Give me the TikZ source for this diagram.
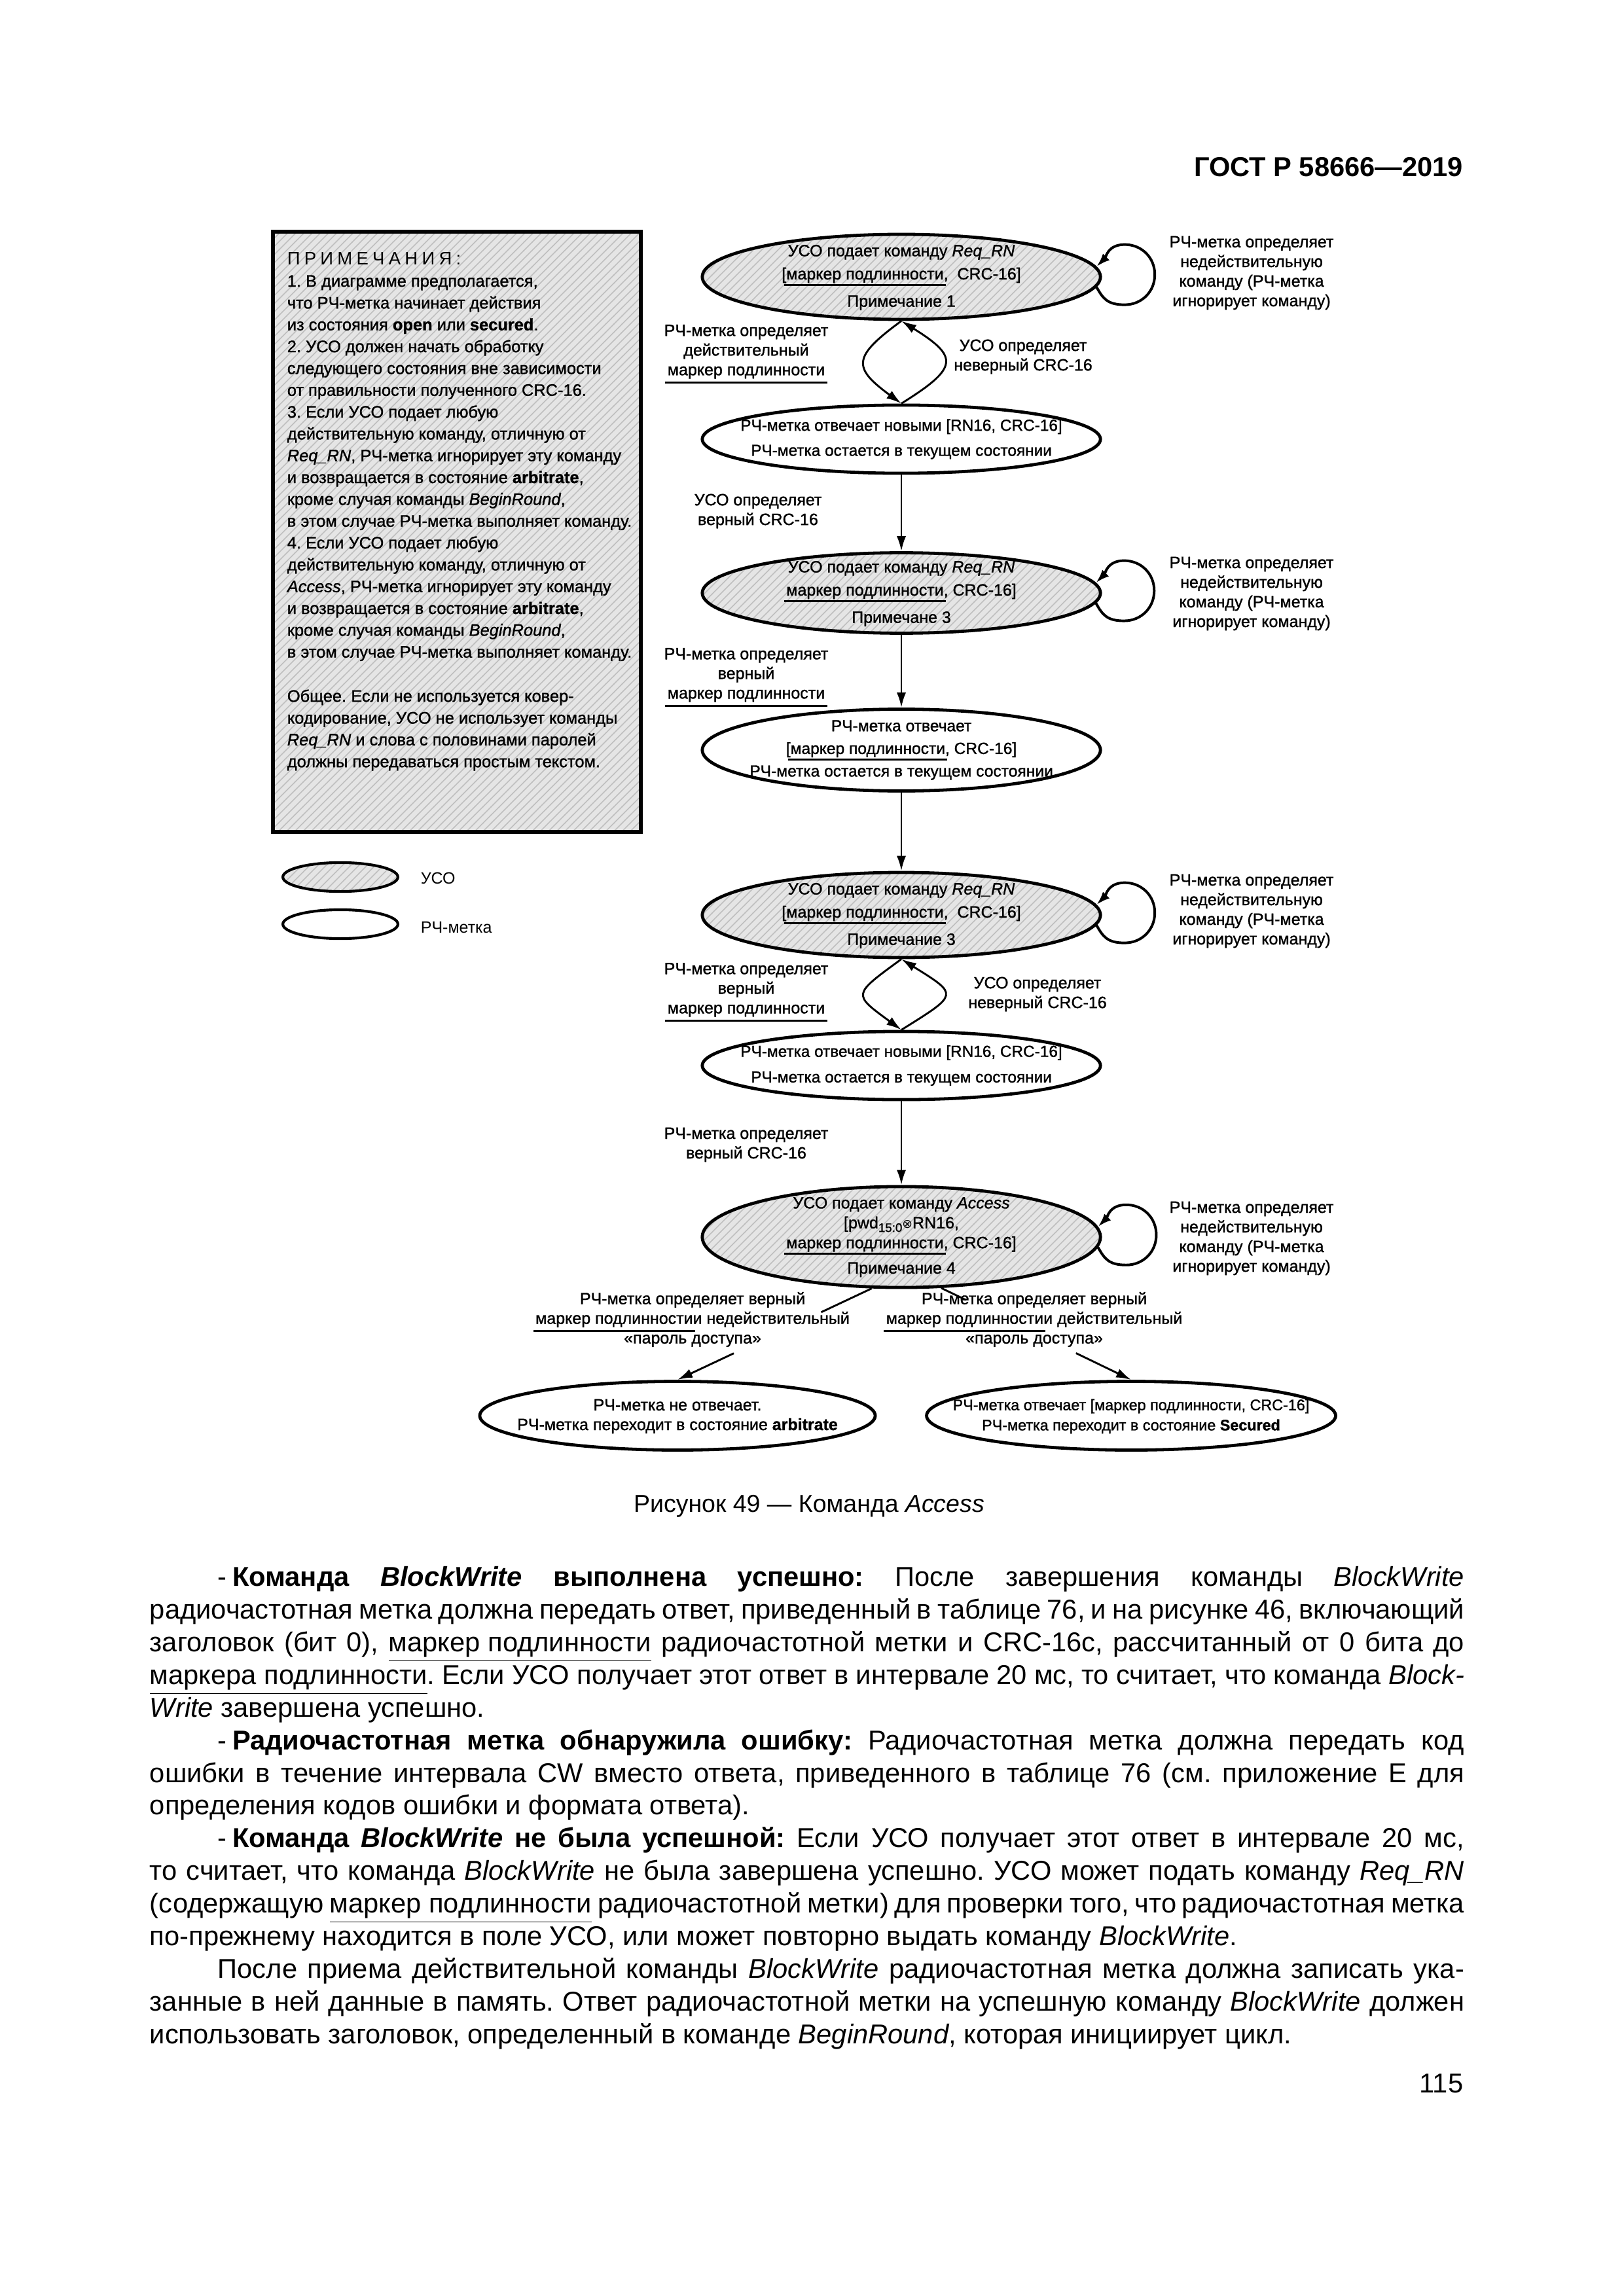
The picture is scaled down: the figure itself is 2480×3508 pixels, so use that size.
\documentclass[tikz,border=0pt]{standalone}
\usepackage{fontspec}
\setmainfont{Liberation Sans}
\newfontfamily\dfont[FakeBold=1.2]{Liberation Sans}
\newfontfamily\symfont{DejaVu Sans}
\usetikzlibrary{arrows.meta,patterns,calc,shapes.geometric}
\frenchspacing
\newcommand\mul[2][2.4pt]{\setbox0=\hbox{#2}\rlap{\kern-0.8pt\rule[-#1]{\dimexpr\wd0+1.6pt\relax}{0.75pt}}\box0}
\newcommand\jline[1]{\makebox[482pt][s]{#1}}
\newcommand\jiline[1]{\makebox[457pt][s]{#1}}
\newcommand\lb{\relax[}
\newcommand\ttl{П\kern1.5ptР\kern1.5ptИ\kern1.5ptМ\kern1.5ptЕ\kern1.5ptЧ\kern1.5ptА\kern1.5ptН\kern1.5ptИ\kern1.5ptЯ\kern1.5pt:}
\begin{document}
\begin{tikzpicture}[x=0.24pt,y=-0.24pt,
  usoell/.style={ellipse, draw, line width=1.15pt, pattern=north east lines, pattern color=gray!50,
     preaction={fill=gray!20}, minimum width=146pt, inner sep=0pt},
  tagell/.style={ellipse, draw, line width=1.15pt, fill=white, minimum width=146pt, inner sep=0pt},
  etxt/.style={font=\dfont\fontsize{6}{8.5}\selectfont, align=center, inner sep=0pt},
  dtxt/.style={font=\dfont\fontsize{6}{7.2}\selectfont, align=center, inner sep=0pt},
  conn/.style={line width=0.7pt, -{Latex[length=5.5pt,width=3.4pt]}},
  seg/.style={line width=0.7pt},
  loopst/.style={line width=0.95pt, -{Latex[length=5pt,width=3.4pt]}},
  body/.style={font=\fontsize{10}{12}\selectfont, inner sep=0pt, anchor=base west},
]
\useasboundingbox (0,0) rectangle (2480,3508);
\fill[white] (0,0) rectangle (2480,3508);

% header
\node[font=\bfseries\fontsize{10}{12}\selectfont, anchor=base east, inner sep=0pt] (hdr) at (2236,270) {ГОСТ Р 58666—2019};

% note box
\node[rectangle, draw, line width=1.35pt, pattern=north east lines, pattern color=gray!50,
   preaction={fill=gray!20}, minimum width=134.9pt, minimum height=220.1pt, inner sep=0pt] (NB) at (698,812.5) {};
\node[anchor=north west, align=left, inner sep=0pt, font=\dfont\fontsize{6.1}{8}\selectfont] (notes) at (438,385) {%
{\normalfont\fontsize{6.6}{8}\selectfont\ttl}\\
1. В диаграмме предполагается,\\
что РЧ-метка начинает действия\\
из состояния \textbf{open} или \textbf{secured}.\\
2. УСО должен начать обработку\\
следующего состояния вне зависимости\\
от правильности полученного CRC-16.\\
3. Если УСО подает любую\\
действительную команду, отличную от\\
\textit{Req\_RN}, РЧ-метка игнорирует эту команду\\
и возвращается в состояние \textbf{arbitrate},\\
кроме случая команды \textit{BeginRound},\\
в этом случае РЧ-метка выполняет команду.\\
4. Если УСО подает любую\\
действительную команду, отличную от\\
\textit{Access}, РЧ-метка игнорирует эту команду\\
и возвращается в состояние \textbf{arbitrate},\\
кроме случая команды \textit{BeginRound},\\
в этом случае РЧ-метка выполняет команду.\\[8.2pt]
Общее. Если не используется ковер-\\
кодирование, УСО не использует команды\\
\textit{Req\_RN} и слова с половинами паролей\\
должны передаваться простым текстом.};

% legend
\node[usoell, line width=1pt, minimum width=42.2pt, minimum height=10.6pt] (LU) at (520,1340) {};
\node[tagell, line width=1pt, minimum width=42.2pt, minimum height=10.6pt] (LT) at (520,1412) {};
\node[anchor=west, inner sep=0pt, font=\fontsize{6}{7}\selectfont] (LUt) at (642,1342) {УСО};
\node[anchor=west, inner sep=0pt, font=\fontsize{6}{7}\selectfont] (LTt) at (642,1417) {РЧ-метка};

% ellipses
\node[usoell, minimum height=31.2pt] (E1) at (1377,423) {};
\node[etxt] (E1t) at (1377,424) {УСО подает команду \textit{Req\_RN}\\ \lb\mul{маркер подлинности},\ \ CRC-16]\\[1.5pt] Примечание 1};
\node[tagell, minimum height=25pt] (E2) at (1377,671) {};
\node[etxt, font=\dfont\fontsize{5.85}{9.2}\selectfont] (E2t) at (1377,671) {РЧ-метка отвечает новыми [RN16, CRC-16]\\ РЧ-метка остается в текущем состоянии};
\node[usoell, minimum height=29.5pt] (E3) at (1377,906) {};
\node[etxt] (E3t) at (1377,907) {УСО подает команду \textit{Req\_RN}\\ \mul{маркер подлинности}, CRC-16]\\[1.5pt] Примечане 3};
\node[tagell, minimum height=30pt] (E4) at (1377,1146) {};
\node[etxt, font=\dfont\fontsize{5.9}{8.3}\selectfont] (E4t) at (1377,1146) {РЧ-метка отвечает\\ \lb\mul{маркер подлинности}, CRC-16]\\ РЧ-метка остается в текущем состоянии};
\node[usoell, minimum height=31.2pt] (E5) at (1377,1398) {};
\node[etxt] (E5t) at (1377,1399) {УСО подает команду \textit{Req\_RN}\\ \lb\mul{маркер подлинности},\ \ CRC-16]\\[1.5pt] Примечание 3};
\node[tagell, minimum height=25pt] (E6) at (1377,1628) {};
\node[etxt, font=\dfont\fontsize{5.85}{9.4}\selectfont] (E6t) at (1377,1628) {РЧ-метка отвечает новыми [RN16, CRC-16]\\ РЧ-метка остается в текущем состоянии};
\node[usoell, minimum height=37pt] (E7) at (1377,1890) {};
\node[etxt, font=\dfont\fontsize{6}{7.3}\selectfont] (E7t) at (1377,1890) {УСО подает команду \textit{Access}\\ \lb pwd\raisebox{-1.3pt}{\fontsize{4.5}{5}\selectfont 15:0}{\symfont\fontsize{4.5}{5}\selectfont ⊗}RN16,\\ \mul{маркер подлинности}, CRC-16]\\[2pt] Примечание 4};
\node[tagell, minimum width=145pt, minimum height=25.2pt] (E8) at (1035,2163) {};
\node[etxt, font=\dfont\fontsize{6}{7.2}\selectfont] (E8t) at (1035,2164) {РЧ-метка не отвечает.\\ РЧ-метка переходит в состояние \textbf{arbitrate}};
\node[tagell, minimum width=150pt, minimum height=25.2pt] (E9) at (1728,2163) {};
\node[etxt, font=\dfont\fontsize{5.6}{7.4}\selectfont] (E9t) at (1728,2164) {РЧ-метка отвечает [маркер подлинности, CRC-16]\\ РЧ-метка переходит в состояние \textbf{Secured}};

% self loops and their labels
\foreach \e/\y in {E1/417,E3/907,E5/1392,E7/1892}{
  \draw[loopst] (\e.-3) .. controls +(10,18) and +(-26,0) .. ++(43,27)
     .. controls +(26,0) and +(0,26) .. ++(46,-46)
     .. controls +(0,-26) and +(26,0) .. ++(-46,-46)
     .. controls +(-26,0) and +(14,-14) .. (\e.3.5);
  \node[dtxt] (\e l) at (1912,\y) {РЧ-метка определяет\\ недействительную\\ команду (РЧ-метка\\ игнорирует команду)};
}

% E1 <-> E2
\draw[conn] (E1.south) .. controls +(-75,55) and +(-75,-55) .. (E2.north);
\draw[conn] (E2.north) .. controls +(88,-55) and +(88,55) .. (E1.south);
\node[dtxt] (L1) at (1140,541) {РЧ-метка определяет\\ действительный\\ \mul[3pt]{маркер подлинности}};
\node[dtxt] (R1) at (1563,545) {УСО определяет\\ неверный CRC-16};

% E2 -> E3
\draw[conn] (E2.south) -- (E3.north);
\node[dtxt] (L2) at (1158,781) {УСО определяет\\ верный CRC-16};

% E3 -> E4
\draw[conn] (E3.south) -- (E4.north);
\node[dtxt] (L3) at (1140,1035) {РЧ-метка определяет\\ верный\\ \mul[3pt]{маркер подлинности}};

% E4 -> E5
\draw[conn] (E4.south) -- (E5.north);

% E5 <-> E6
\draw[conn] (E5.south) .. controls +(-75,55) and +(-75,-55) .. (E6.north);
\draw[conn] (E6.north) .. controls +(88,-55) and +(88,55) .. (E5.south);
\node[dtxt] (L4) at (1140,1516) {РЧ-метка определяет\\ верный\\ \mul[3pt]{маркер подлинности}};
\node[dtxt] (R4) at (1585,1519) {УСО определяет\\ неверный CRC-16};

% E6 -> E7
\draw[conn] (E6.south) -- (E7.north);
\node[dtxt] (L5) at (1140,1749) {РЧ-метка определяет\\ верный CRC-16};

% E7 -> E8, E9
\coordinate (a1) at ($(E7.-120)!0.26!(E8.north)$);
\coordinate (a2) at ($(E7.-120)!0.71!(E8.north)$);
\coordinate (b1) at ($(E7.-52)!0.13!(E9.north)$);
\coordinate (b2) at ($(E7.-52)!0.71!(E9.north)$);
\draw[seg] (E7.-120) -- (a1);
\draw[conn] (a2) -- (E8.north);
\draw[seg] (E7.-52) -- (b1);
\draw[conn] (b2) -- (E9.north);
\node[dtxt] (L6) at (1058,2016) {РЧ-метка определяет верный\\ \mul[3pt]{маркер подлинности} и недействительный\\ «пароль доступа»};
\node[dtxt] (R6) at (1580,2016) {РЧ-метка определяет верный\\ \mul[3pt]{маркер подлинности} и действительный\\ «пароль доступа»};

% caption
\node[font=\fontsize{9}{11}\selectfont, anchor=base, inner sep=0pt] (cap) at (1236,2310) {Рисунок 49 — Команда \textit{Access}};

% body text
\node[body] (t1) at (332,2423) {\jiline{-\kern2pt\textbf{Команда \textit{BlockWrite} выполнена успешно:} После завершения команды \textit{BlockWrite}}};
\node[body] (t2) at (228,2473) {\jline{радиочастотная метка должна передать ответ, приведенный в таблице 76, и на рисунке 46, включающий}};
\node[body] (t3) at (228,2523) {\jline{заголовок (бит 0), \underline{маркер подлинности} радиочастотной метки и CRC-16c, рассчитанный от 0 бита до}};
\node[body] (t4) at (228,2573) {\jline{\underline{маркера подлинности}. Если УСО получает этот ответ в интервале 20 мс, то считает, что команда \textit{Block-}}};
\node[body] (t5) at (228,2623) {\textit{Write} завершена успешно.};
\node[body] (t6) at (332,2673) {\jiline{-\kern2pt\textbf{Радиочастотная метка обнаружила ошибку:} Радиочастотная метка должна передать код}};
\node[body] (t7) at (228,2723) {\jline{ошибки в течение интервала CW вместо ответа, приведенного в таблице 76 (см. приложение Е для}};
\node[body] (t8) at (228,2772) {определения кодов ошибки и формата ответа).};
\node[body] (t9) at (332,2822) {\jiline{-\kern2pt\textbf{Команда \textit{BlockWrite} не была успешной:} Если УСО получает этот ответ в интервале 20 мс,}};
\node[body] (t10) at (228,2872) {\jline{то считает, что команда \textit{BlockWrite} не была завершена успешно. УСО может подать команду \textit{Req\_RN}}};
\node[body] (t11) at (228,2922) {\jline{(содержащую \underline{маркер подлинности} радиочастотной метки) для проверки того, что радиочастотная метка}};
\node[body] (t12) at (228,2972) {по-прежнему находится в поле УСО, или может повторно выдать команду \textit{BlockWrite}.};
\node[body] (t13) at (332,3022) {\jiline{После приема действительной команды \textit{BlockWrite} радиочастотная метка должна записать ука-}};
\node[body] (t14) at (228,3072) {\jline{занные в ней данные в память. Ответ радиочастотной метки на успешную команду \textit{BlockWrite} должен}};
\node[body] (t15) at (228,3122) {использовать заголовок, определенный в команде \textit{BeginRound}, которая инициирует цикл.};

% page number
\node[font=\fontsize{10}{12}\selectfont, anchor=base east, inner sep=0pt] (pg) at (2236,3197) {115};
\end{tikzpicture}
\end{document}
